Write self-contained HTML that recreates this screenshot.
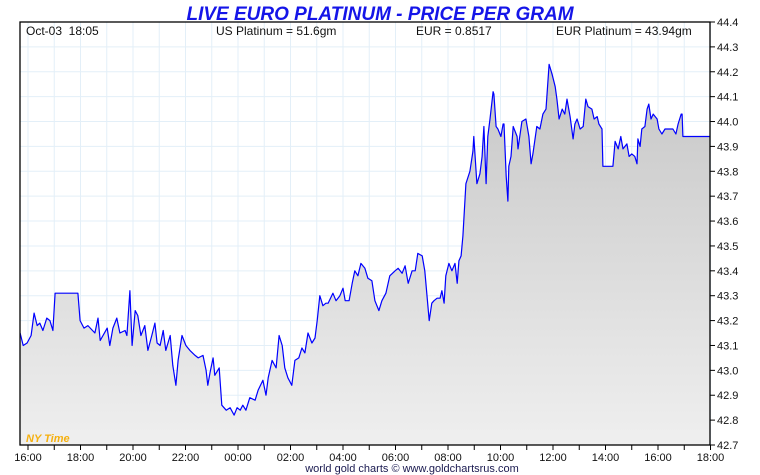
<!DOCTYPE html>
<html><head><meta charset="utf-8"><style>
html,body{margin:0;padding:0;background:#fff;width:760px;height:475px;overflow:hidden}
svg text{font-family:"Liberation Sans",sans-serif}
</style></head><body>
<svg id="chart" width="760" height="475" xmlns="http://www.w3.org/2000/svg">
<defs><linearGradient id="fillg" x1="0" y1="0" x2="0" y2="1"><stop offset="0" stop-color="#c6c6c6"/><stop offset="1" stop-color="#efefef"/></linearGradient></defs>
<text x="380" y="20" text-anchor="middle" font-size="19" font-weight="bold" font-style="italic" fill="#1515e8">LIVE EURO PLATINUM - PRICE PER GRAM</text>
<g id="grid"></g>
<path id="area" fill="url(#fillg)"/>
<path id="line" fill="none" stroke="#0000ff" stroke-width="1.2" stroke-linejoin="round"/>
<rect x="20" y="22" width="690" height="423" fill="none" stroke="#000" stroke-width="1.3"/>
<text x="26" y="35" font-size="12" fill="#111">Oct-03&#160; 18:05</text>
<text x="216" y="35" font-size="12" fill="#111">US Platinum = 51.6gm</text>
<text x="416" y="35" font-size="12" fill="#111">EUR = 0.8517</text>
<text x="556" y="35" font-size="12" fill="#111">EUR Platinum = 43.94gm</text>
<text x="26" y="442" font-size="11" font-weight="bold" font-style="italic" fill="#f5b010">NY Time</text>
<g id="yaxis"></g>
<g id="xaxis"></g>
<text x="412" y="472" text-anchor="middle" font-size="11" fill="#1a1a50">world gold charts © www.goldchartsrus.com</text>
</svg>
<script>
const minutes=[-18,-11,-2,7,14,21,27,34,43,50,57,62,96,114,119,128,137,153,160,165,181,187,194,203,210,222,226,233,238,245,251,258,267,274,283,290,295,302,309,315,325,331,338,343,352,361,370,382,389,400,407,411,416,423,427,437,443,453,462,471,478,485,491,498,507,519,526,537,544,549,558,567,574,581,587,594,603,610,619,626,633,640,649,656,661,667,674,681,686,697,704,713,720,725,734,741,747,754,761,770,777,786,793,802,809,818,827,839,846,855,862,869,878,885,891,901,907,917,923,928,935,942,946,951,955,962,969,976,981,985,990,994,1001,1010,1017,1019,1026,1033,1038,1042,1047,1051,1056,1063,1065,1070,1074,1081,1086,1088,1093,1097,1099,1104,1109,1118,1120,1129,1138,1145,1150,1154,1163,1170,1177,1184,1191,1198,1205,1209,1214,1221,1227,1232,1239,1246,1250,1255,1262,1269,1275,1280,1289,1294,1301,1305,1312,1314,1319,1330,1337,1342,1349,1355,1360,1369,1374,1380,1387,1392,1394,1399,1403,1410,1415,1419,1424,1429,1438,1442,1449,1456,1463,1474,1481,1486,1493,1495,1497,1560];
const prices=[43.15,43.10,43.11,43.14,43.23,43.18,43.19,43.16,43.21,43.20,43.16,43.31,43.31,43.31,43.20,43.17,43.18,43.15,43.21,43.12,43.17,43.10,43.17,43.21,43.15,43.16,43.14,43.32,43.10,43.24,43.22,43.14,43.18,43.08,43.14,43.19,43.11,43.10,43.16,43.08,43.14,43.02,42.94,43.04,43.14,43.10,43.08,43.06,43.05,43.06,43.00,42.94,42.99,43.05,42.98,43.01,42.86,42.84,42.85,42.82,42.85,42.84,42.86,42.84,42.89,42.88,42.92,42.96,42.90,42.97,43.04,43.01,43.14,43.10,43.01,42.97,42.94,43.04,43.05,43.09,43.07,43.15,43.11,43.13,43.20,43.30,43.26,43.27,43.27,43.31,43.28,43.30,43.33,43.28,43.28,43.35,43.40,43.38,43.43,43.41,43.37,43.36,43.28,43.24,43.28,43.31,43.38,43.40,43.41,43.39,43.42,43.35,43.40,43.40,43.47,43.46,43.40,43.20,43.27,43.28,43.29,43.29,43.32,43.27,43.38,43.43,43.40,43.43,43.35,43.44,43.46,43.54,43.75,43.80,43.88,43.94,43.75,43.79,43.86,43.98,43.75,43.94,44.01,44.12,44.11,43.98,43.97,43.94,43.99,43.99,43.78,43.68,43.82,43.86,43.98,43.94,43.89,44.00,44.01,43.94,43.83,43.87,43.98,43.97,44.03,44.05,44.23,44.19,44.14,44.09,44.01,44.05,44.03,44.09,44.02,43.93,43.99,44.01,43.97,43.98,44.09,44.06,44.05,44.01,44.02,43.99,43.97,43.82,43.82,43.82,43.82,43.92,43.89,43.94,43.89,43.91,43.86,43.87,43.86,43.83,43.93,43.90,43.97,43.98,44.05,44.07,44.01,44.03,44.01,43.97,43.95,43.97,43.97,43.97,43.95,43.99,44.03,44.03,43.94,43.94];
const yTicks=[42.7,42.8,42.9,43.0,43.1,43.2,43.3,43.4,43.5,43.6,43.7,43.8,43.9,44.0,44.1,44.2,44.3,44.4];
const xTickLabels=["16:00","18:00","20:00","22:00","00:00","02:00","04:00","06:00","08:00","10:00","12:00","14:00","16:00","18:00"];
const NS="http://www.w3.org/2000/svg";
const L=20,R=710,T=22,B=445;
function xs(m){return 28+m*26.25/60;}
function ys(v){return T+(44.4-v)/1.7*(B-T);}
function mk(tag,attrs,parent){const e=document.createElementNS(NS,tag);for(const k in attrs)e.setAttribute(k,attrs[k]);parent.appendChild(e);return e;}
const grid=document.getElementById('grid'),ya=document.getElementById('yaxis'),xa=document.getElementById('xaxis');
mk('rect',{x:L,y:T,width:R-L,height:B-T,fill:'#fff'},grid);
for(let h=0;h<=26;h++){const x=xs(h*60);
 const g=mk('line',{x1:x,x2:x,y1:T,y2:B,stroke:'#e3eff8','stroke-width':1},grid);
 
 
 const t=mk('line',{x1:x,x2:x,y1:B,y2:B+5,stroke:'#000','stroke-width':1},xa);
 
 }
xTickLabels.forEach((s,i)=>{const t=mk('text',{x:xs(i*120),y:B+16,'text-anchor':'middle','font-size':11,fill:'#111'},xa);t.textContent=s;
 
 });
yTicks.forEach(v=>{const y=ys(v);
 const g=mk('line',{x1:L,x2:R,y1:y,y2:y,stroke:'#e3eff8','stroke-width':1},grid);
 
 
 const tk=mk('line',{x1:R,x2:R+5,y1:y,y2:y,stroke:'#000','stroke-width':1},ya);
 
 
 const t=mk('text',{x:R+7,y:y+4,'font-size':11,fill:'#111'},ya);t.textContent=v.toFixed(1);
 
 });
let d='';
minutes.forEach((m,i)=>{const x=Math.min(Math.max(xs(m),L),R);d+=(i?'L':'M')+x.toFixed(1)+','+ys(prices[i]).toFixed(1);});
document.getElementById('line').setAttribute('d',d);
const x0=Math.max(xs(minutes[0]),L),x1=Math.min(xs(minutes[minutes.length-1]),R);
document.getElementById('area').setAttribute('d',d+'L'+x1+','+B+'L'+x0+','+B+'Z');
</script>
</body></html>
